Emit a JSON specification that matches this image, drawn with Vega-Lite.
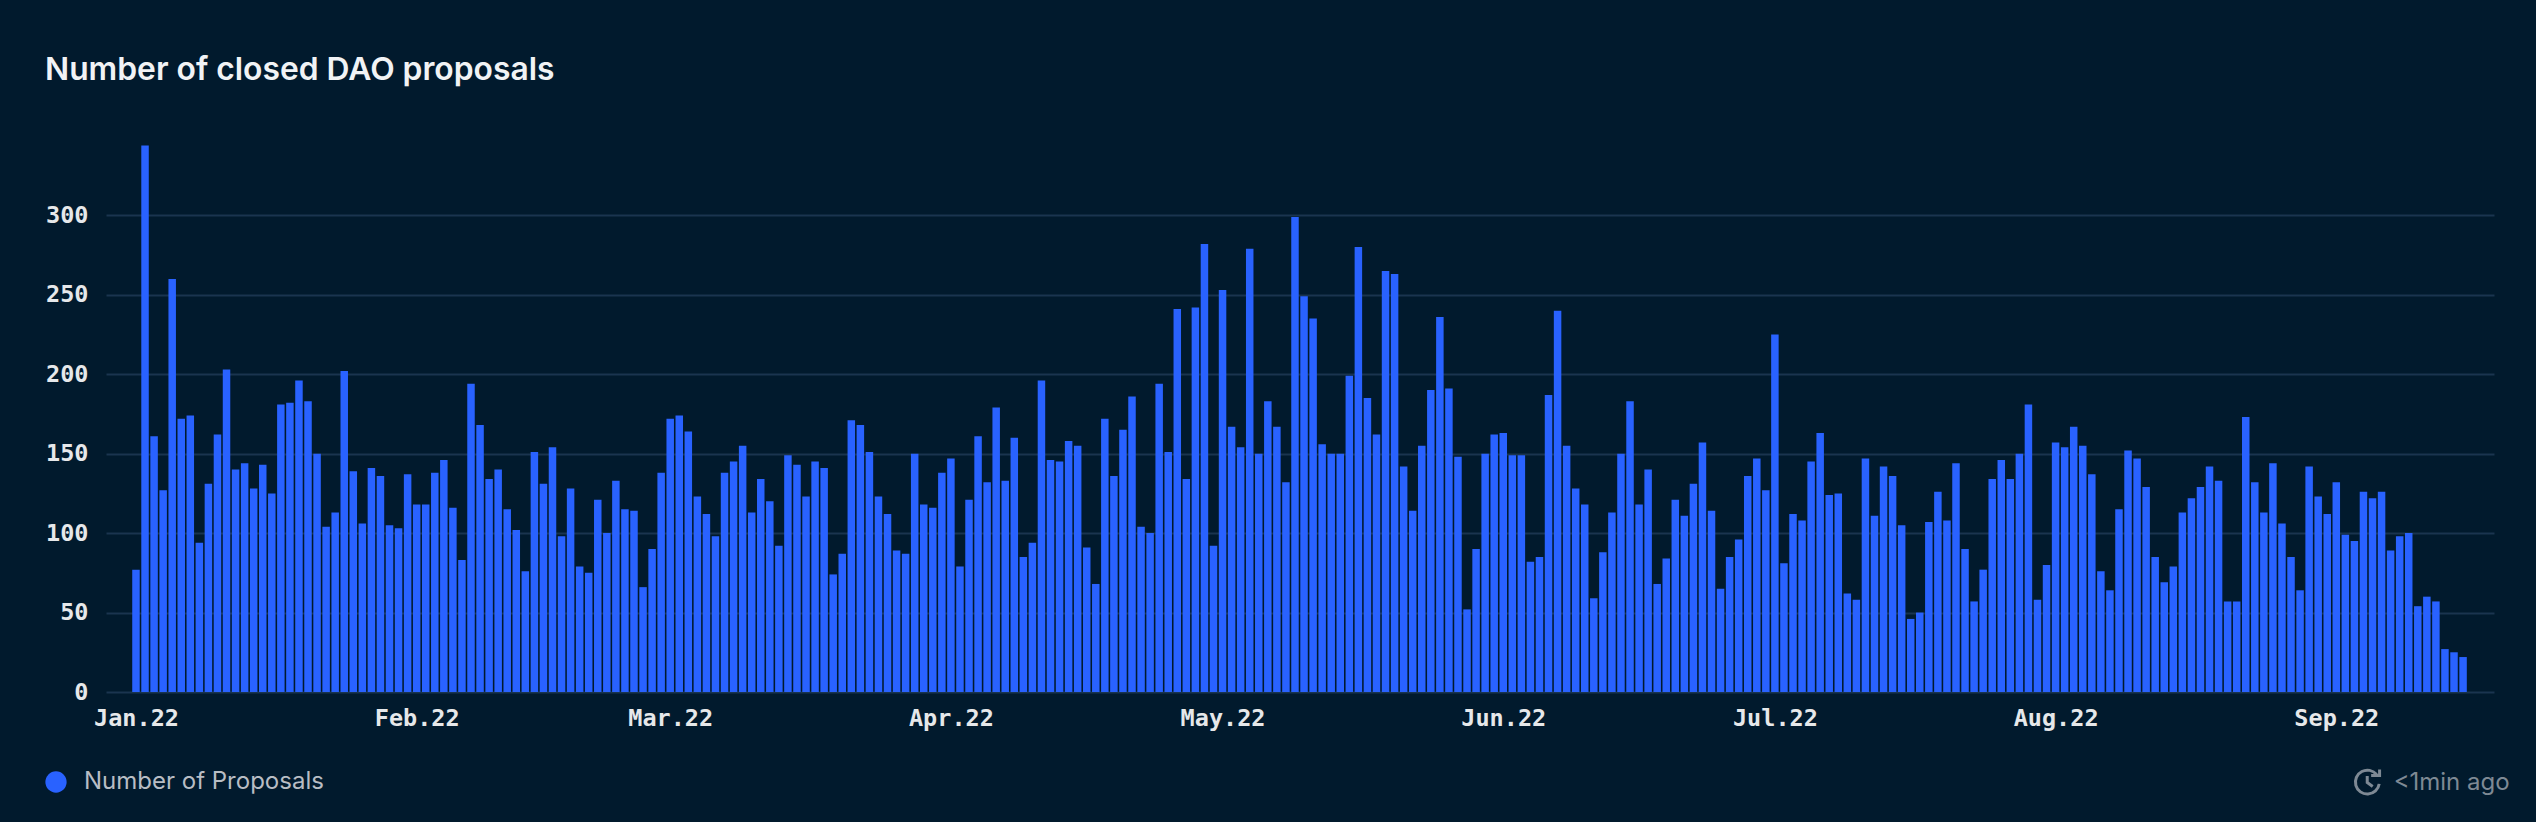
{
"$schema":"https://vega.github.io/schema/vega-lite/v6.json",
"autosize":"none",
"width":2388,"height":572,
"padding":{"left":106,"top":120,"right":42,"bottom":130},
"background":"#011a2d",
"title":{"text":"Number of closed DAO proposals","anchor":"start","frame":"group","dx":-61,"offset":33,"font":"Inter","fontSize":31.8,"fontWeight":600,"color":"#f1f3f5"},
"config":{"view":{"stroke":null}},
"data":{"values":[
{"d":"2022-01-01","v":77},{"d":"2022-01-02","v":344},{"d":"2022-01-03","v":161},{"d":"2022-01-04","v":127},{"d":"2022-01-05","v":260},{"d":"2022-01-06","v":172},{"d":"2022-01-07","v":174},{"d":"2022-01-08","v":94},{"d":"2022-01-09","v":131},{"d":"2022-01-10","v":162},{"d":"2022-01-11","v":203},{"d":"2022-01-12","v":140},{"d":"2022-01-13","v":144},{"d":"2022-01-14","v":128},{"d":"2022-01-15","v":143},{"d":"2022-01-16","v":125},{"d":"2022-01-17","v":181},{"d":"2022-01-18","v":182},{"d":"2022-01-19","v":196},{"d":"2022-01-20","v":183},{"d":"2022-01-21","v":150},{"d":"2022-01-22","v":104},{"d":"2022-01-23","v":113},{"d":"2022-01-24","v":202},{"d":"2022-01-25","v":139},{"d":"2022-01-26","v":106},{"d":"2022-01-27","v":141},{"d":"2022-01-28","v":136},{"d":"2022-01-29","v":105},{"d":"2022-01-30","v":103},{"d":"2022-01-31","v":137},
{"d":"2022-02-01","v":118},{"d":"2022-02-02","v":118},{"d":"2022-02-03","v":138},{"d":"2022-02-04","v":146},{"d":"2022-02-05","v":116},{"d":"2022-02-06","v":83},{"d":"2022-02-07","v":194},{"d":"2022-02-08","v":168},{"d":"2022-02-09","v":134},{"d":"2022-02-10","v":140},{"d":"2022-02-11","v":115},{"d":"2022-02-12","v":102},{"d":"2022-02-13","v":76},{"d":"2022-02-14","v":151},{"d":"2022-02-15","v":131},{"d":"2022-02-16","v":154},{"d":"2022-02-17","v":98},{"d":"2022-02-18","v":128},{"d":"2022-02-19","v":79},{"d":"2022-02-20","v":75},{"d":"2022-02-21","v":121},{"d":"2022-02-22","v":100},{"d":"2022-02-23","v":133},{"d":"2022-02-24","v":115},{"d":"2022-02-25","v":114},{"d":"2022-02-26","v":66},{"d":"2022-02-27","v":90},{"d":"2022-02-28","v":138},
{"d":"2022-03-01","v":172},{"d":"2022-03-02","v":174},{"d":"2022-03-03","v":164},{"d":"2022-03-04","v":123},{"d":"2022-03-05","v":112},{"d":"2022-03-06","v":98},{"d":"2022-03-07","v":138},{"d":"2022-03-08","v":145},{"d":"2022-03-09","v":155},{"d":"2022-03-10","v":113},{"d":"2022-03-11","v":134},{"d":"2022-03-12","v":120},{"d":"2022-03-13","v":92},{"d":"2022-03-14","v":149},{"d":"2022-03-15","v":143},{"d":"2022-03-16","v":123},{"d":"2022-03-17","v":145},{"d":"2022-03-18","v":141},{"d":"2022-03-19","v":74},{"d":"2022-03-20","v":87},{"d":"2022-03-21","v":171},{"d":"2022-03-22","v":168},{"d":"2022-03-23","v":151},{"d":"2022-03-24","v":123},{"d":"2022-03-25","v":112},{"d":"2022-03-26","v":89},{"d":"2022-03-27","v":87},{"d":"2022-03-28","v":150},{"d":"2022-03-29","v":118},{"d":"2022-03-30","v":116},{"d":"2022-03-31","v":138},
{"d":"2022-04-01","v":147},{"d":"2022-04-02","v":79},{"d":"2022-04-03","v":121},{"d":"2022-04-04","v":161},{"d":"2022-04-05","v":132},{"d":"2022-04-06","v":179},{"d":"2022-04-07","v":133},{"d":"2022-04-08","v":160},{"d":"2022-04-09","v":85},{"d":"2022-04-10","v":94},{"d":"2022-04-11","v":196},{"d":"2022-04-12","v":146},{"d":"2022-04-13","v":145},{"d":"2022-04-14","v":158},{"d":"2022-04-15","v":155},{"d":"2022-04-16","v":91},{"d":"2022-04-17","v":68},{"d":"2022-04-18","v":172},{"d":"2022-04-19","v":136},{"d":"2022-04-20","v":165},{"d":"2022-04-21","v":186},{"d":"2022-04-22","v":104},{"d":"2022-04-23","v":100},{"d":"2022-04-24","v":194},{"d":"2022-04-25","v":151},{"d":"2022-04-26","v":241},{"d":"2022-04-27","v":134},{"d":"2022-04-28","v":242},{"d":"2022-04-29","v":282},{"d":"2022-04-30","v":92},
{"d":"2022-05-01","v":253},{"d":"2022-05-02","v":167},{"d":"2022-05-03","v":154},{"d":"2022-05-04","v":279},{"d":"2022-05-05","v":150},{"d":"2022-05-06","v":183},{"d":"2022-05-07","v":167},{"d":"2022-05-08","v":132},{"d":"2022-05-09","v":299},{"d":"2022-05-10","v":249},{"d":"2022-05-11","v":235},{"d":"2022-05-12","v":156},{"d":"2022-05-13","v":150},{"d":"2022-05-14","v":150},{"d":"2022-05-15","v":199},{"d":"2022-05-16","v":280},{"d":"2022-05-17","v":185},{"d":"2022-05-18","v":162},{"d":"2022-05-19","v":265},{"d":"2022-05-20","v":263},{"d":"2022-05-21","v":142},{"d":"2022-05-22","v":114},{"d":"2022-05-23","v":155},{"d":"2022-05-24","v":190},{"d":"2022-05-25","v":236},{"d":"2022-05-26","v":191},{"d":"2022-05-27","v":148},{"d":"2022-05-28","v":52},{"d":"2022-05-29","v":90},{"d":"2022-05-30","v":150},{"d":"2022-05-31","v":162},
{"d":"2022-06-01","v":163},{"d":"2022-06-02","v":149},{"d":"2022-06-03","v":149},{"d":"2022-06-04","v":82},{"d":"2022-06-05","v":85},{"d":"2022-06-06","v":187},{"d":"2022-06-07","v":240},{"d":"2022-06-08","v":155},{"d":"2022-06-09","v":128},{"d":"2022-06-10","v":118},{"d":"2022-06-11","v":59},{"d":"2022-06-12","v":88},{"d":"2022-06-13","v":113},{"d":"2022-06-14","v":150},{"d":"2022-06-15","v":183},{"d":"2022-06-16","v":118},{"d":"2022-06-17","v":140},{"d":"2022-06-18","v":68},{"d":"2022-06-19","v":84},{"d":"2022-06-20","v":121},{"d":"2022-06-21","v":111},{"d":"2022-06-22","v":131},{"d":"2022-06-23","v":157},{"d":"2022-06-24","v":114},{"d":"2022-06-25","v":65},{"d":"2022-06-26","v":85},{"d":"2022-06-27","v":96},{"d":"2022-06-28","v":136},{"d":"2022-06-29","v":147},{"d":"2022-06-30","v":127},
{"d":"2022-07-01","v":225},{"d":"2022-07-02","v":81},{"d":"2022-07-03","v":112},{"d":"2022-07-04","v":108},{"d":"2022-07-05","v":145},{"d":"2022-07-06","v":163},{"d":"2022-07-07","v":124},{"d":"2022-07-08","v":125},{"d":"2022-07-09","v":62},{"d":"2022-07-10","v":58},{"d":"2022-07-11","v":147},{"d":"2022-07-12","v":111},{"d":"2022-07-13","v":142},{"d":"2022-07-14","v":136},{"d":"2022-07-15","v":105},{"d":"2022-07-16","v":46},{"d":"2022-07-17","v":50},{"d":"2022-07-18","v":107},{"d":"2022-07-19","v":126},{"d":"2022-07-20","v":108},{"d":"2022-07-21","v":144},{"d":"2022-07-22","v":90},{"d":"2022-07-23","v":57},{"d":"2022-07-24","v":77},{"d":"2022-07-25","v":134},{"d":"2022-07-26","v":146},{"d":"2022-07-27","v":134},{"d":"2022-07-28","v":150},{"d":"2022-07-29","v":181},{"d":"2022-07-30","v":58},{"d":"2022-07-31","v":80},
{"d":"2022-08-01","v":157},{"d":"2022-08-02","v":154},{"d":"2022-08-03","v":167},{"d":"2022-08-04","v":155},{"d":"2022-08-05","v":137},{"d":"2022-08-06","v":76},{"d":"2022-08-07","v":64},{"d":"2022-08-08","v":115},{"d":"2022-08-09","v":152},{"d":"2022-08-10","v":147},{"d":"2022-08-11","v":129},{"d":"2022-08-12","v":85},{"d":"2022-08-13","v":69},{"d":"2022-08-14","v":79},{"d":"2022-08-15","v":113},{"d":"2022-08-16","v":122},{"d":"2022-08-17","v":129},{"d":"2022-08-18","v":142},{"d":"2022-08-19","v":133},{"d":"2022-08-20","v":57},{"d":"2022-08-21","v":57},{"d":"2022-08-22","v":173},{"d":"2022-08-23","v":132},{"d":"2022-08-24","v":113},{"d":"2022-08-25","v":144},{"d":"2022-08-26","v":106},{"d":"2022-08-27","v":85},{"d":"2022-08-28","v":64},{"d":"2022-08-29","v":142},{"d":"2022-08-30","v":123},{"d":"2022-08-31","v":112},
{"d":"2022-09-01","v":132},{"d":"2022-09-02","v":99},{"d":"2022-09-03","v":95},{"d":"2022-09-04","v":126},{"d":"2022-09-05","v":122},{"d":"2022-09-06","v":126},{"d":"2022-09-07","v":89},{"d":"2022-09-08","v":98},{"d":"2022-09-09","v":100},{"d":"2022-09-10","v":54},{"d":"2022-09-11","v":60},{"d":"2022-09-12","v":57},{"d":"2022-09-13","v":27},{"d":"2022-09-14","v":25},{"d":"2022-09-15","v":22}
]},
"layer":[
{"mark":{"type":"bar","width":7.5,"clip":false},
 "encoding":{
  "x":{"field":"d","type":"temporal",
    "scale":{"type":"utc","padding":0,"domain":[{"year":2021,"month":12,"date":28,"hours":16,"minutes":33,"utc":true},{"year":2022,"month":9,"date":18,"hours":10,"utc":true}]},
    "axis":{"title":null,"grid":false,"domain":false,"ticks":false,"tickCount":{"interval":"month","step":1},
      "labelExpr":"utcFormat(datum.value,'%b.%y')","labelFont":"DejaVu Sans Mono","labelFontSize":23.5,"labelFontWeight":"bold","labelColor":"#e6e8ea","labelPadding":14,"labelOverlap":false,"labelBound":false,"labelFlush":false,"labelAlign":"center"}},
  "y":{"field":"v","type":"quantitative",
    "scale":{"domain":[0,360],"nice":false},
    "axis":{"title":null,"values":[0,50,100,150,200,250,300],"grid":true,"gridColor":"#1a344f","gridWidth":2,"domain":false,"ticks":false,
      "labelFont":"DejaVu Sans Mono","labelFontSize":23.5,"labelFontWeight":"bold","labelColor":"#e6e8ea","labelPadding":18}},
  "color":{"datum":"Number of Proposals","type":"nominal",
    "scale":{"range":["#2962ff"]},
    "legend":{"title":null,"orient":"none","legendX":-62,"legendY":650,"symbolType":"circle","symbolSize":452,"symbolStrokeWidth":0,"labelFont":"Inter","labelFontSize":24,"labelColor":"#b8bdc4","labelOffset":16,"labelLimit":400}}
 }},
{"data":{"values":[{"label":"<1min ago"}]},
 "mark":{"type":"text","align":"left","baseline":"middle","font":"Inter","fontSize":24,"color":"#7e8994"},
 "encoding":{
  "x":{"datum":{"year":2022,"month":9,"date":7,"hours":8,"utc":true},"type":"temporal"},
  "y":{"datum":-57,"type":"quantitative"},
  "text":{"field":"label"}
 }},
{"data":{"values":[{"label":"icon"}]},
 "mark":{"type":"point","shape":"M0.72 -0.62 A0.92 0.92 0 1 0 0.92 0.1 M0 -0.5 L0 0 L0.42 0.3 M0.3 -0.55 L0.95 -0.55 L0.95 -1","size":676,"filled":false,"stroke":"#7e8994","strokeWidth":3,"opacity":1},
 "encoding":{
  "x":{"datum":{"year":2022,"month":9,"date":4,"hours":10,"utc":true},"type":"temporal"},
  "y":{"datum":-57,"type":"quantitative"}
 }}
]
}
